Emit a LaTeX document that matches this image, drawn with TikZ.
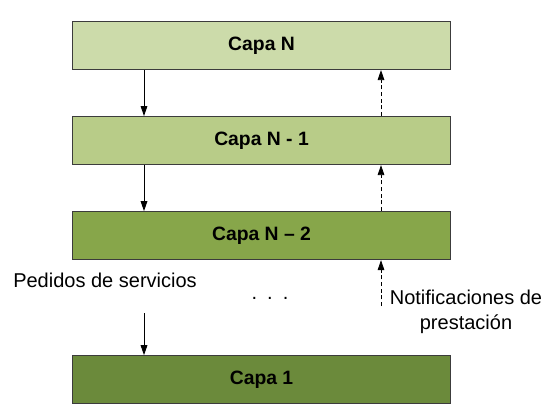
\documentclass[tikz,border=0pt]{standalone}
\usepackage{fontspec}
\setsansfont{Liberation Sans}
\usetikzlibrary{arrows.meta, positioning}
\definecolor{verdeClaro}{HTML}{CCDBAA}
\definecolor{verdeMedio}{HTML}{B8CC88}
\definecolor{verdeFuerte}{HTML}{87A64A}
\definecolor{verdeOscuro}{HTML}{6B8A3B}
\definecolor{grisBorde}{HTML}{3C3C3C}
\tikzset{
  capaBase/.style={
    draw=grisBorde, line width=0.8pt,
    minimum height=36pt, minimum width=283.5pt,
    align=center, font=\sffamily\bfseries\fontsize{14.5}{17}\selectfont,
    text=black, inner sep=0pt
  },
  capaN/.style={capaBase, fill=verdeClaro},
  capaN1/.style={capaBase, fill=verdeMedio},
  capaN2/.style={capaBase, fill=verdeFuerte},
  capaUno/.style={capaBase, fill=verdeOscuro},
  flecha/.style={-{Triangle[length=7.5pt, width=5pt]}, line width=0.75pt, black},
  flechaPunteada/.style={flecha, densely dashed, line width=0.6pt},
  etiqueta/.style={font=\sffamily\fontsize{15}{18.5}\selectfont, text=black,
    align=center, inner sep=0pt},
}
\begin{document}
\begin{tikzpicture}[x=0.75pt, y=-0.75pt]
  \useasboundingbox (0,0) rectangle (556,414);
  \node[capaN, anchor=north west] (capaN) at (72,21) {Capa N};
  \node[capaN1, below=34.5pt of capaN] (capaN1) {Capa N - 1};
  \node[capaN2, below=34.5pt of capaN1] (capaN2) {Capa N -- 2};
  \node[capaUno, below=71.25pt of capaN2] (capa1) {Capa 1};

  \node[etiqueta] (pedidos) at (105,280) {Pedidos de servicios};
  \node[etiqueta] (puntos) at (270,298) {.\,\,\,.\,\,\,.};
  \node[etiqueta] (notif) at (466,312) {Notificaciones de\\prestación};
  \coordinate (pedidosIni) at (144,313);
  \coordinate (notifIni) at (381,306);

  % pedidos hacia abajo
  \draw[flecha] ([xshift=54pt]capaN.south west) -- ([xshift=54pt]capaN1.north west);
  \draw[flecha] ([xshift=54pt]capaN1.south west) -- ([xshift=54pt]capaN2.north west);
  \draw[flecha] (pedidosIni) -- (pedidosIni |- capa1.north);

  % notificaciones hacia arriba
  \draw[flechaPunteada] ([xshift=231.75pt]capaN1.north west) -- ([xshift=231.75pt]capaN.south west);
  \draw[flechaPunteada] ([xshift=231.75pt]capaN2.north west) -- ([xshift=231.75pt]capaN1.south west);
  \draw[flechaPunteada] (notifIni) -- (notifIni |- capaN2.south);
\end{tikzpicture}
\end{document}
